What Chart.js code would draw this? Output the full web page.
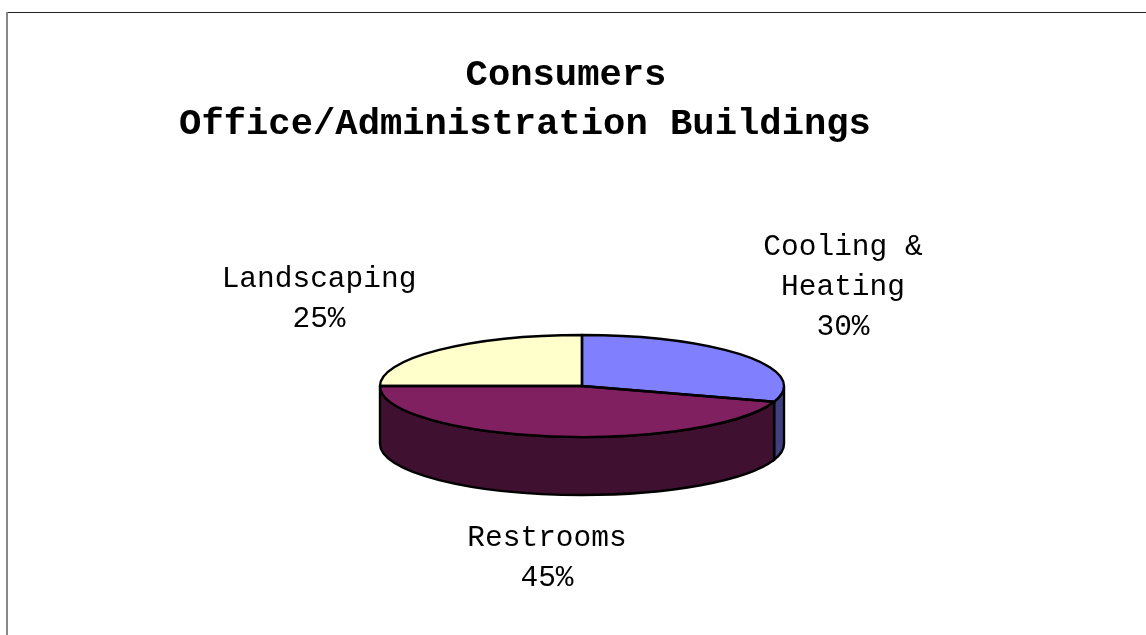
<!DOCTYPE html>
<html>
<head>
<meta charset="utf-8">
<title>Consumers Office/Administration Buildings</title>
<script src="https://cdn.jsdelivr.net/npm/chart.js@4"></script>
<style>
  html, body { margin: 0; background: #fff; }
  canvas { display: block; }
</style>
</head>
<body>
<canvas id="grafico" width="1146" height="635"></canvas>
<script>
const tituloLinhas = ['Consumers', 'Office/Administration Buildings'];
const categorias = ['Cooling & Heating', 'Restrooms', 'Landscaping'];
const valores = [30, 45, 25];
const coresTopo = ['#8080ff', '#802060', '#ffffcc'];
const coresLado = ['#404080', '#401030', '#808066'];

// Onde cada rotulo fica, em pixels da pagina
const rotuloLinhas = [['Cooling &', 'Heating'], ['Restrooms'], ['Landscaping']];
const rotuloPos = [{x: 843, y: 255}, {x: 547, y: 546}, {x: 319, y: 287}];
const achatamento = 51 / 202;
const profundidade = 58;

function caminhoElipse(ctx, arco, dy, inicio, fim, inverso) {
  ctx.ellipse(arco.x, arco.y + dy, arco.outerRadius, arco.outerRadius * achatamento, 0, inicio, fim, inverso);
}

// Achata a pizza e desenha a parede lateral e os contornos
const pizza3d = {
  id: 'pizza3d',
  beforeDatasetsDraw(chart) {
    const ctx = chart.ctx;
    const arcos = chart.getDatasetMeta(0).data;
    const c = arcos[0];
    // parede lateral: so a parte da frente (0 a 180 graus) aparece
    arcos.forEach((arco, i) => {
      const ini = Math.max(arco.startAngle, 0);
      const fim = Math.min(arco.endAngle, Math.PI);
      if (fim <= ini) return;
      ctx.beginPath();
      caminhoElipse(ctx, arco, 0, ini, fim, false);
      caminhoElipse(ctx, arco, profundidade, fim, ini, true);
      ctx.closePath();
      ctx.fillStyle = coresLado[i];
      ctx.fill();
      ctx.strokeStyle = '#000';
      ctx.lineWidth = 2.4;
      ctx.stroke();
    });
    ctx.save();
    ctx.translate(0, c.y);
    ctx.scale(1, achatamento);
    ctx.translate(0, -c.y);
  },
  afterDatasetsDraw(chart) {
    const ctx = chart.ctx;
    ctx.restore();
    chart.getDatasetMeta(0).data.forEach((arco) => {
      ctx.beginPath();
      ctx.moveTo(arco.x, arco.y);
      caminhoElipse(ctx, arco, 0, arco.startAngle, arco.endAngle, false);
      ctx.closePath();
      ctx.strokeStyle = '#000';
      ctx.lineWidth = 2.4;
      ctx.lineJoin = 'round';
      ctx.stroke();
    });
  },
  afterDraw(chart) {
    const ctx = chart.ctx;
    // moldura so em cima e a esquerda
    ctx.fillStyle = '#222';
    ctx.fillRect(7, 12, 1139, 1);
    ctx.fillStyle = '#888';
    ctx.fillRect(6, 12, 2, 623);

    ctx.fillStyle = '#000';
    ctx.textAlign = 'center';
    ctx.textBaseline = 'alphabetic';
    ctx.font = 'bold 37.2px "Liberation Mono"';
    ctx.fillText(tituloLinhas[0], 566, 85);
    ctx.fillText(tituloLinhas[1], 525, 134);

    ctx.font = '29.5px "Liberation Mono"';
    const total = valores.reduce((a, b) => a + b, 0);
    rotuloLinhas.forEach((linhas, i) => {
      const texto = linhas.concat(Math.round(valores[i] / total * 100) + '%');
      texto.forEach((t, j) => ctx.fillText(t, rotuloPos[i].x, rotuloPos[i].y + j * 40));
    });
  }
};

new Chart(document.getElementById('grafico').getContext('2d'), {
  type: 'pie',
  data: {
    labels: categorias,
    datasets: [{data: valores, backgroundColor: coresTopo, borderWidth: 0}]
  },
  options: {
    responsive: false,
    animation: false,
    layout: {padding: {left: 380, right: 362, top: 184, bottom: 47}},
    plugins: {
      legend: {display: false},
      title: {display: false},
      tooltip: {enabled: false}
    }
  },
  plugins: [pizza3d]
});
</script>
</body>
</html>
